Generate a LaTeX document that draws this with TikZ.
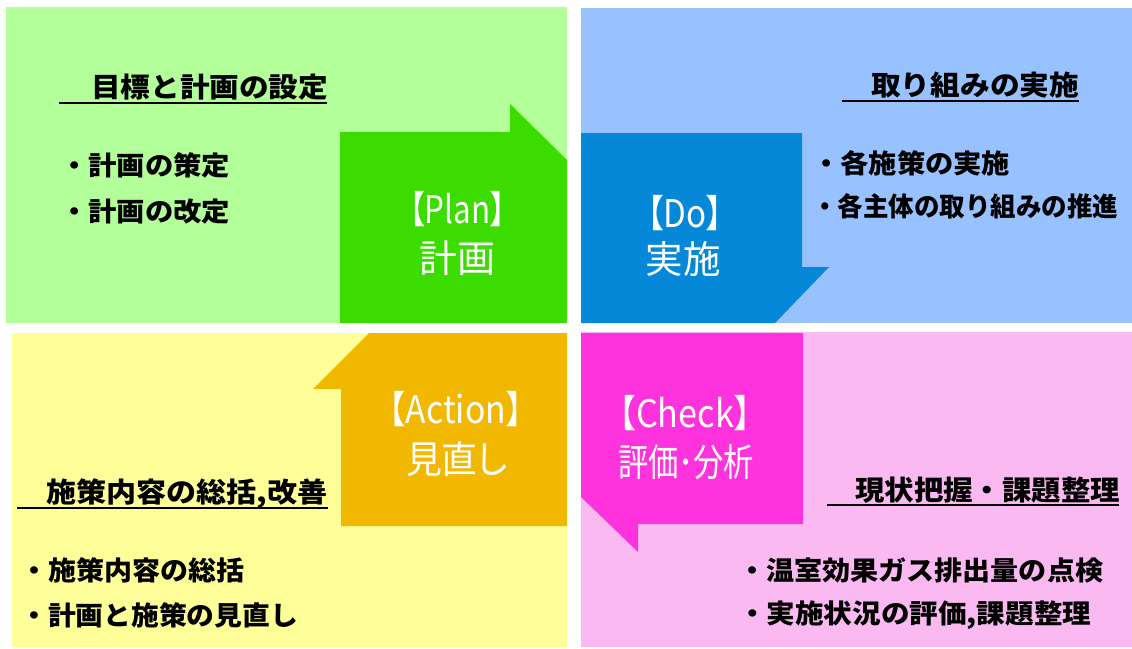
\documentclass[tikz,border=0pt]{standalone}
\usepackage{fontspec}
\usepackage{graphicx}
\newfontfamily\jp[RawFeature=+palt]{Noto Sans CJK JP}
\newfontfamily\jpn{Noto Sans CJK JP}
\definecolor{lgreen}{HTML}{B3FF99}
\definecolor{dgreen}{HTML}{3CDC00}
\definecolor{lblue}{HTML}{97C2FF}
\definecolor{dblue}{HTML}{0588D8}
\definecolor{lyellow}{HTML}{FFFF99}
\definecolor{dorange}{HTML}{F2B800}
\definecolor{lpink}{HTML}{FAB9F0}
\definecolor{dpink}{HTML}{FF33DD}
\newcommand{\fitw}[2]{\resizebox{#1pt}{\height}{#2}}
\begin{document}
\begin{tikzpicture}[x=1pt,y=-1pt,
  lbl/.style={font=\jp\fontsize{38}{38}\selectfont, text=white, inner sep=0},
  bul/.style={font=\jpn\bfseries\fontsize{26.5}{26.5}\selectfont, inner sep=0, anchor=west},
  hd/.style={font=\jpn\bfseries\fontsize{27.5}{27.5}\selectfont, inner sep=0, anchor=west},
  uline/.style={line width=2pt, black}]
\useasboundingbox (0,0) rectangle (1132,648);
% quadrants
\fill[lgreen] (6,7) rectangle (567,323);
\fill[lblue] (581,8) rectangle (1132,323);
\fill[lyellow] (12,333) rectangle (567,647);
\fill[lpink] (581,332) rectangle (1132,647);
% arrows
\fill[dgreen] (340,132) -- (510,132) -- (510,104) -- (567,160) -- (567,323) -- (340,323) -- cycle;
\fill[dblue] (581,133) -- (802,133) -- (802,267) -- (829,267) -- (775,323) -- (581,323) -- cycle;
\fill[dorange] (369,333) -- (567,333) -- (567,526) -- (341,526) -- (341,389) -- (313,389) -- cycle;
\fill[dpink] (581,333) -- (803,333) -- (803,524) -- (638,524) -- (638,552) -- (581,497) -- cycle;
% arrow labels
\node[lbl] (plan1) at (457.5,209) {\fitw{97}{【Plan】}};
\node[lbl] (plan2) at (457.5,258) {\fitw{76}{計画}};
\node[lbl] (do1) at (685,213) {\fitw{76}{【Do】}};
\node[lbl] (do2) at (683,259) {\fitw{75}{実施}};
\node[lbl] (act1) at (456,409) {\fitw{134}{【Action】}};
\node[lbl] (act2) at (457,459) {\fitw{102}{見直し}};
\node[lbl] (chk1) at (685,413) {\fitw{132}{【Check】}};
\node[lbl] (chk2) at (686,462) {\fitw{136}{評価･分析}};
% headings
\node[hd] (hTL) at (91,87) {\fitw{237}{目標と計画の設定}};
\draw[uline] (59,103) -- (327,103);
\node[hd] (hTR) at (871,85) {\fitw{208}{取り組みの実施}};
\draw[uline] (842,101) -- (1079,101);
\node[hd] (hBL) at (46,493.5) {\fitw{281}{施策内容の総括,改善}};
\draw[uline] (17,508) -- (328,508);
\node[hd] (hBR) at (855,490.5) {\fitw{265}{現状把握・課題整理}};
\draw[uline] (827,505) -- (1119,505);
% bullets
\node[bul] (tl1) at (60,165.5) {\fitw{170}{・計画の策定}};
\node[bul] (tl2) at (60,211.5) {\fitw{170}{・計画の改定}};
\node[bul] (tr1) at (812,163.5) {\fitw{198}{・各施策の実施}};
\node[bul] (tr2) at (812,206.5) {\fitw{306}{・各主体の取り組みの推進}};
\node[bul] (bl1) at (20,570) {\fitw{224}{・施策内容の総括}};
\node[bul] (bl2) at (20,615) {\fitw{278}{・計画と施策の見直し}};
\node[bul] (br1) at (738,570) {\fitw{365}{・温室効果ガス排出量の点検}};
\node[bul] (br2) at (738,615) {\fitw{353}{・実施状況の評価,課題整理}};
\end{tikzpicture}
\end{document}
